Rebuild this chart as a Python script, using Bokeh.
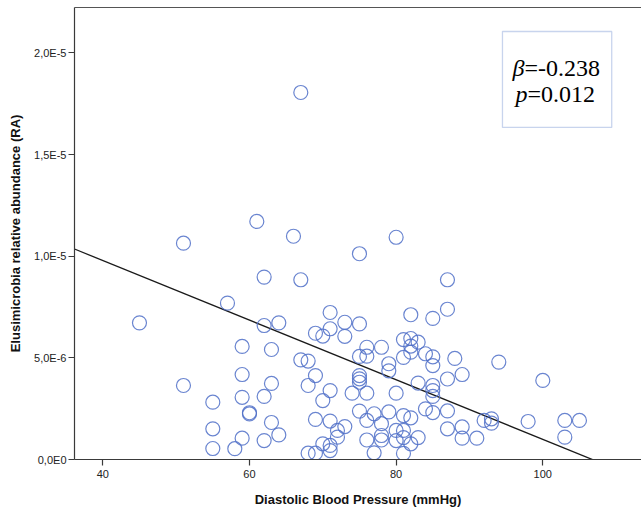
from bokeh.plotting import figure
from bokeh.models import FixedTicker, LinearAxis, Range1d, BoxAnnotation
from bokeh.core.properties import value
from bokeh.embed import file_html
from bokeh.resources import INLINE
import numpy as np

# Diastolic blood pressure (mmHg)
dbp = [45,
       51, 51,
       55, 55, 55,
       57, 58,
       59, 59, 59, 59,
       60, 60,
       61,
       62, 62, 62, 62,
       63, 63, 63,
       64, 64,
       66,
       67, 67, 67,
       68, 68, 68,
       69, 69, 69, 69,
       70, 70, 70,
       71, 71, 71, 71, 71, 71,
       72, 72,
       73, 73, 73,
       74,
       75, 75, 75, 75, 75, 75, 75,
       76, 76, 76, 76, 76,
       77, 77,
       78, 78, 78, 78,
       79, 79, 79,
       80, 80, 80, 80,
       81, 81, 81, 81, 81, 81,
       82, 82, 82, 82, 82, 82,
       83, 83, 83,
       84, 84,
       85, 85, 85, 85, 85, 85, 85,
       87, 87, 87, 87, 87,
       88,
       89, 89, 89,
       91, 92, 93, 93, 94, 98, 100,
       103, 103, 105]

# Elusimicrobia relative abundance, in units of 1e-6
ra_e6 = [6.72,
         10.64, 3.64,
         2.82, 1.51, 0.54,
         7.69, 0.53,
         5.56, 4.18, 3.06, 1.05,
         2.30, 2.24,
         11.71,
         8.97, 6.59, 3.10, 0.93,
         5.41, 3.74, 1.82,
         6.72, 1.21,
         10.98,
         18.05, 8.84, 4.90,
         4.84, 3.64, 0.31,
         6.21, 4.13, 1.97, 0.31,
         6.07, 2.90, 0.77,
         7.23, 6.43, 3.39, 1.89, 0.69, 0.44,
         1.43, 1.10,
         6.75, 6.06, 1.62,
         3.26,
         10.12, 6.67, 5.07, 4.13, 3.97, 3.80, 2.38,
         5.52, 5.08, 3.26, 1.92, 0.96,
         2.25, 0.33,
         5.52, 1.76, 1.18, 0.96,
         4.71, 4.36, 2.34,
         10.93, 3.26, 1.43, 0.93,
         5.90, 5.02, 2.16, 1.43, 1.08, 0.30,
         7.12, 5.95, 5.58, 5.28, 2.05, 0.77,
         5.77, 3.76, 1.08,
         5.20, 2.49,
         6.94, 5.05, 4.62, 3.64, 3.39, 3.10, 2.31,
         8.84, 7.39, 3.96, 2.39, 1.51,
         4.97,
         4.18, 1.60, 1.05,
         1.05, 1.92, 2.00, 1.79, 4.79, 1.87, 3.89,
         1.92, 1.10, 1.92]

# fit line (units of 1e-6)
fit_intercept = 15.65
fit_slope = -0.1466

x_ticks = [40, 60, 80, 100]
y_ticks = [0, 5, 10, 15, 20]
y_tick_labels = ["0,0E0", "5,0E-6", "1,0E-5", "1,5E-5", "2,0E-5"]

beta_text = "=-0.238"
p_text = "=0.012"

X0, X1 = 36.14, 113.46
Y0, Y1 = 0.0, 22.23

p = figure(width=641, height=514, output_backend="svg", toolbar_location=None,
           x_range=Range1d(X0, X1), y_range=Range1d(Y0, Y1),
           min_border_left=74, min_border_right=0, min_border_top=7, min_border_bottom=55)
p.outline_line_color = None
p.grid.visible = False
p.background_fill_color = "white"
p.border_fill_color = "white"

axis_color = "#3a3a3a"
for ax in (p.xaxis[0], p.yaxis[0]):
    ax.axis_line_color = axis_color
    ax.axis_line_width = 1.2
    ax.major_tick_line_color = axis_color
    ax.major_tick_line_width = 1.2
    ax.major_tick_out = 6
    ax.major_tick_in = 0
    ax.minor_tick_line_color = None
    ax.major_label_text_font = "Liberation Sans"
    ax.major_label_text_font_size = "11px"
    ax.major_label_text_color = "#222222"
    ax.axis_label_text_font = "Liberation Sans"
    ax.axis_label_text_font_size = "13px"
    ax.axis_label_text_font_style = "bold"
    ax.axis_label_text_color = "#111111"

p.xaxis[0].ticker = FixedTicker(ticks=x_ticks)
p.xaxis[0].axis_label = "Diastolic Blood Pressure (mmHg)"
p.xaxis[0].major_label_standoff = 4
p.xaxis[0].axis_label_standoff = 11

p.yaxis[0].ticker = FixedTicker(ticks=y_ticks)
p.yaxis[0].major_label_overrides = {t: l for t, l in zip(y_ticks, y_tick_labels)}
p.yaxis[0].axis_label = "Elusimicrobia relative abundance (RA)"
p.yaxis[0].major_label_standoff = 2
p.yaxis[0].axis_label_standoff = 8

top = LinearAxis(ticker=FixedTicker(ticks=[]), axis_line_color="#555555", axis_line_width=1.0,
                 major_tick_line_color=None, minor_tick_line_color=None,
                 major_label_text_font_size="0px")
p.add_layout(top, "above")

# annotation box (drawn beneath the glyphs so the text stays visible)
p.add_layout(BoxAnnotation(left=94.5, right=109.4, top=21.05, bottom=16.33,
                           fill_color="white", fill_alpha=1.0, level="underlay",
                           line_color="#4a72c4", line_width=1.3))

# fit line
fx = np.array([X0, X1])
fy = fit_intercept + fit_slope * fx
p.line(fx, fy, line_color="#1a1a1a", line_width=1.3)

p.scatter(dbp, ra_e6, marker="circle", size=14, fill_color=None,
          line_color="#5070c8", line_alpha=0.85, line_width=1.2)

font = value("Liberation Serif")
p.text(x=[97.5], y=[19.25], text=["β"], text_font=font, text_font_size="24px",
       text_font_style="italic", text_align="right", text_baseline="middle", text_color="#000000")
p.text(x=[97.5], y=[19.25], text=[beta_text], text_font=font, text_font_size="24px",
       text_align="left", text_baseline="middle", text_color="#000000")
p.text(x=[97.9], y=[17.98], text=["p"], text_font=font, text_font_size="24px",
       text_font_style="italic", text_align="right", text_baseline="middle", text_color="#000000")
p.text(x=[97.9], y=[17.98], text=[p_text], text_font=font, text_font_size="24px",
       text_align="left", text_baseline="middle", text_color="#000000")

open("out.html", "w").write(file_html(p, INLINE))
